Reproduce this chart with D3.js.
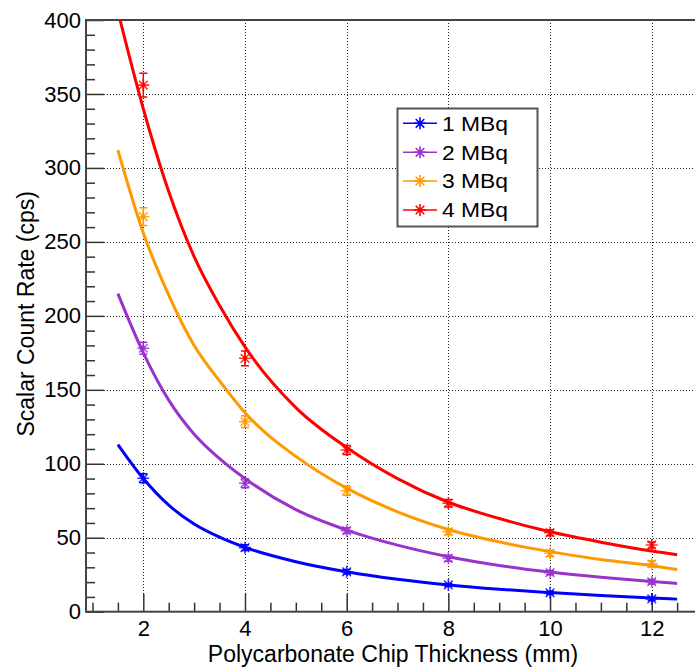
<!DOCTYPE html>
<html>
<head>
<meta charset="utf-8">
<script src="https://cdn.jsdelivr.net/npm/d3@7"></script>
<style>
  body { margin: 0; background: #fff; }
  text { font-family: "Liberation Sans", Arial, Helvetica, sans-serif; fill: #000; }
</style>
</head>
<body>
<svg id="chart"></svg>
<script>

// measured points (x = thickness in mm)
const thickness = [2, 4, 6, 8, 10, 12];

const rate1MBq = [90.2, 43.3, 27.0, 18.1, 12.8, 8.6];
const rate2MBq = [178.1, 86.8, 54.8, 36.1, 26.4, 20.3];
const rate3MBq = [267, 128.5, 81.8, 54.1, 39.5, 32.3];
const rate4MBq = [356, 171.3, 109.3, 73.3, 53.4, 45.1];

const err1MBq = [3, 2, 1.5, 1, 1, 1];
const err2MBq = [4, 3, 2, 2, 1.5, 1.5];
const err3MBq = [6, 4, 3, 2, 2, 2];
const err4MBq = [8, 5, 3, 2.5, 2, 2];

// fitted curves
const fitX = [1.5, 2, 2.5, 3, 3.5, 4, 5, 6, 7, 8, 9, 10, 11, 12, 12.5];
const fit1MBq = [113, 90, 72, 59.3, 50.4, 43.5, 33.8, 27, 21.9, 18.1, 15.2, 12.9, 10.9, 9.2, 8.5];
const fit2MBq = [215, 175, 143, 120, 103.5, 90, 69, 55.2, 45, 37.2, 31.3, 26.8, 23.3, 20.4, 19.1];
const fit3MBq = [312, 256, 214, 180, 156, 134.5, 105, 83.5, 67.5, 55.6, 47.2, 40.6, 35.3, 31.1, 28.6];
const fit4MBq = [406, 340, 284, 240, 207, 179, 138, 111, 90, 74, 63, 54, 47, 41, 38.5];

const seriesNames = ["1 MBq", "2 MBq", "3 MBq", "4 MBq"];
const seriesColors = ["#0000ff", "#9933cc", "#ff9900", "#ff0000"];

const xMajor = [2, 4, 6, 8, 10, 12];
const xMinor = [1, 1.5, 2.5, 3, 3.5, 4.5, 5, 5.5, 6.5, 7, 7.5, 8.5, 9, 9.5, 10.5, 11, 11.5, 12.5];
const yMajor = [0, 50, 100, 150, 200, 250, 300, 350, 400];
const yGrid = [50, 100, 150, 200, 250, 300, 350];

const series = seriesNames.map((name, i) => ({
    name: name,
    color: seriesColors[i],
    points: thickness.map((t, j) => ({
        x: t,
        y: [rate1MBq, rate2MBq, rate3MBq, rate4MBq][i][j],
        e: [err1MBq, err2MBq, err3MBq, err4MBq][i][j]
    })),
    fit: fitX.map((t, j) => ({ x: t, y: [fit1MBq, fit2MBq, fit3MBq, fit4MBq][i][j] }))
}));


// SVG SETUP
const wsvg = 695;
const hsvg = 670;

const frameL = 86, frameR = 698, frameT = 20, frameB = 611.7;

const svg = d3.select("#chart")
    .attr("width", wsvg)
    .attr("height", hsvg);

const xScale = d3.scaleLinear([0.873, 12.91], [frameL, frameR]);
const yScale = d3.scaleLinear([0, 400], [frameB, frameT]);

svg.append("clipPath").attr("id", "frameClip")
    .append("rect")
    .attr("x", frameL).attr("y", frameT)
    .attr("width", frameR - frameL).attr("height", frameB - frameT);

// grid
const grid = svg.append("g")
    .attr("stroke", "#222")
    .attr("stroke-width", 1)
    .attr("stroke-dasharray", "1,2");

grid.selectAll(".vgrid")
    .data(xMajor)
    .join("line")
    .attr("x1", d => Math.round(xScale(d)) + 0.5)
    .attr("x2", d => Math.round(xScale(d)) + 0.5)
    .attr("y1", frameT)
    .attr("y2", frameB);

grid.selectAll(".hgrid")
    .data(yGrid)
    .join("line")
    .attr("y1", d => Math.round(yScale(d)) + 0.5)
    .attr("y2", d => Math.round(yScale(d)) + 0.5)
    .attr("x1", frameL)
    .attr("x2", frameR);

// axes
svg.append("g")
    .attr("transform", `translate(0, ${frameB})`)
    .call(d3.axisBottom(xScale).tickValues(xMajor).tickSize(-18).tickPadding(8.5).tickFormat(d3.format("d")));

svg.append("g")
    .attr("transform", `translate(0, ${frameB})`)
    .call(d3.axisBottom(xScale).tickValues(xMinor).tickSize(-9).tickFormat(""));

svg.append("g")
    .attr("transform", `translate(${frameL}, 0)`)
    .call(d3.axisLeft(yScale).tickValues(yMajor).tickSize(-18).tickPadding(5));

svg.append("g")
    .attr("transform", `translate(${frameL}, 0)`)
    .call(d3.axisLeft(yScale).tickValues(d3.range(0, 401, 10).filter(v => v % 50 !== 0)).tickSize(-9).tickFormat(""));

svg.selectAll(".domain").remove();
svg.selectAll(".tick line").attr("stroke", "#333").attr("stroke-width", 1.5);
svg.selectAll(".tick text")
    .attr("font-family", "Liberation Sans, Arial, sans-serif")
    .attr("font-size", 22)
    .attr("fill", "#000");

// frame
svg.append("rect")
    .attr("x", frameL)
    .attr("y", frameT)
    .attr("width", frameR - frameL)
    .attr("height", frameB - frameT)
    .attr("fill", "none")
    .attr("stroke", "#444")
    .attr("stroke-width", 2);

// fit curves
const line = d3.line()
    .x(d => xScale(d.x))
    .y(d => yScale(d.y))
    .curve(d3.curveMonotoneX);

const plot = svg.append("g").attr("clip-path", "url(#frameClip)");

plot.selectAll(".fit")
    .data(series)
    .join("path")
    .attr("class", "fit")
    .attr("d", d => line(d.fit))
    .attr("fill", "none")
    .attr("stroke", d => d.color)
    .attr("stroke-width", 3);

// asterisk marker
const star = "M-6,0H6M0,-6V6M-4.3,-4.3L4.3,4.3M-4.3,4.3L4.3,-4.3";

series.forEach(s => {
    const g = plot.append("g")
        .attr("stroke", s.color)
        .attr("fill", s.color);

    const pts = g.selectAll("g")
        .data(s.points)
        .join("g")
        .attr("transform", d => `translate(${xScale(d.x)}, ${yScale(d.y)})`);

    // error bars with caps
    pts.append("path")
        .attr("d", d => {
            const h = yScale(0) - yScale(d.e);
            return `M0,${-h}V${h}M-4,${-h}H4M-4,${h}H4`;
        })
        .attr("stroke-width", 1.5)
        .attr("fill", "none");

    pts.append("path")
        .attr("d", star)
        .attr("stroke-width", 1.6)
        .attr("stroke-opacity", 0.8)
        .attr("fill", "none");

    pts.append("circle")
        .attr("r", 2)
        .attr("stroke", "none");
});

// legend
const legend = svg.append("g");

legend.append("rect")
    .attr("x", 397.5)
    .attr("y", 108.5)
    .attr("width", 140)
    .attr("height", 118)
    .attr("fill", "#fff")
    .attr("stroke", "#555")
    .attr("stroke-width", 2);

const rowY = [123.3, 152.3, 181, 210];

series.forEach((s, i) => {
    const row = legend.append("g")
        .attr("transform", `translate(0, ${rowY[i]})`);

    row.append("line")
        .attr("x1", 403)
        .attr("x2", 437)
        .attr("stroke", s.color)
        .attr("stroke-width", 1.5);

    row.append("path")
        .attr("transform", "translate(420, 0)")
        .attr("d", star)
        .attr("stroke", s.color)
        .attr("stroke-width", 1.6)
        .attr("fill", "none");

    row.append("circle")
        .attr("cx", 420)
        .attr("r", 2)
        .attr("fill", s.color);

    row.append("text")
        .attr("x", 442)
        .attr("dy", "0.36em")
        .attr("font-size", 20)
        .attr("textLength", 66)
        .attr("lengthAdjust", "spacingAndGlyphs")
        .text(s.name);
});

// axis titles
svg.append("text")
    .attr("x", 393)
    .attr("y", 662)
    .attr("text-anchor", "middle")
    .attr("font-size", 23)
    .text("Polycarbonate Chip Thickness (mm)");

svg.append("text")
    .attr("transform", `translate(34, ${(frameT + frameB) / 2 - 2}) rotate(-90)`)
    .attr("text-anchor", "middle")
    .attr("font-size", 23)
    .text("Scalar Count Rate (cps)");

</script>
</body>
</html>
